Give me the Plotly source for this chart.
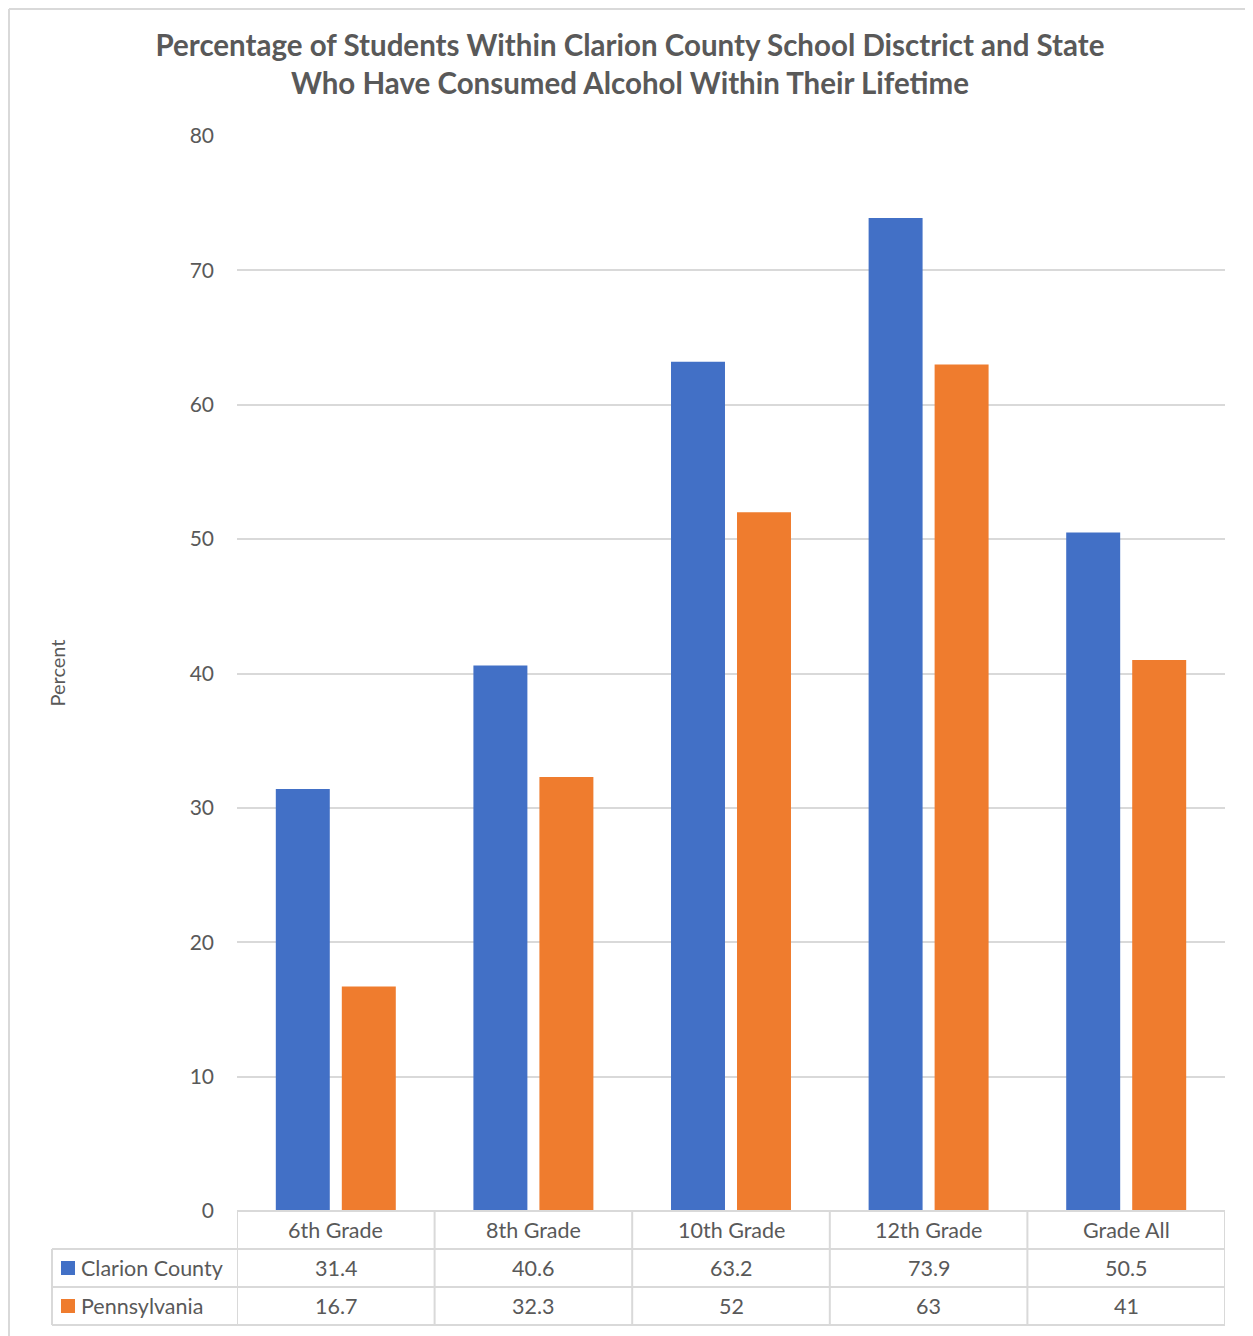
import plotly.graph_objects as go

categories = ["6th Grade", "8th Grade", "10th Grade", "12th Grade", "Grade All"]
series_names = ["Clarion County", "Pennsylvania"]
clarion = [31.4, 40.6, 63.2, 73.9, 50.5]
pennsylvania = [16.7, 32.3, 52, 63, 41]
clarion_labels = ["31.4", "40.6", "63.2", "73.9", "50.5"]
penn_labels = ["16.7", "32.3", "52", "63", "41"]
y_ticks = [0, 10, 20, 30, 40, 50, 60, 70, 80]

OFF = 8  # page body margin
W, H = 1253 - OFF, 1336 - OFF
L = 237 - OFF
T = 136 - OFF
R = W - (1225 - OFF)
B = H - (1211 - OFF)
PW = W - L - R
PH = H - T - B

BLUE = "#4270C6"
ORANGE = "#EF7C2E"
TXT = "#595959"
GRID = "#D9D9D9"
FONT = "Lato"


def px_x(px):
    # px given in reference-image coordinates
    return (px - OFF - L) / PW


def px_y(py):
    return (H - B - (py - OFF)) / PH


fig = go.Figure()
fig.add_trace(go.Bar(x=categories, y=clarion, name=series_names[0],
                     marker=dict(color=BLUE, line=dict(width=0))))
fig.add_trace(go.Bar(x=categories, y=pennsylvania, name=series_names[1],
                     marker=dict(color=ORANGE, line=dict(width=0))))

shapes = []
annotations = []
row_h = 38
rows_y = [1211, 1211 + row_h, 1211 + 2 * row_h, 1211 + 3 * row_h]
n = len(categories)
line = dict(color=GRID, width=2)

for i in range(n + 1):
    shapes.append(dict(type="line", xref="x", yref="paper",
                       x0=i - 0.5, x1=i - 0.5,
                       y0=px_y(rows_y[0]), y1=px_y(rows_y[3]), line=line))
shapes.append(dict(type="line", xref="x", yref="paper", x0=-0.5, x1=n - 0.5,
                   y0=px_y(rows_y[0]), y1=px_y(rows_y[0]), line=line))
for ry in rows_y[1:]:
    shapes.append(dict(type="line", xref="paper", yref="paper",
                       x0=px_x(52), x1=1,
                       y0=px_y(ry), y1=px_y(ry), line=line))
shapes.append(dict(type="line", xref="paper", yref="paper",
                   x0=px_x(52), x1=px_x(52),
                   y0=px_y(rows_y[1]), y1=px_y(rows_y[3]), line=line))

# outer chart border (top and left)
shapes.append(dict(type="line", xref="paper", yref="paper",
                   x0=px_x(OFF + 1), x1=px_x(1253 + 10), y0=px_y(OFF + 1), y1=px_y(OFF + 1),
                   line=dict(color=GRID, width=2)))
shapes.append(dict(type="line", xref="paper", yref="paper",
                   x0=px_x(OFF + 1), x1=px_x(OFF + 1), y0=px_y(OFF + 1), y1=px_y(1336 + 10),
                   line=dict(color=GRID, width=2)))

for col, r0 in [(BLUE, rows_y[1]), (ORANGE, rows_y[2])]:
    cy = r0 + row_h / 2
    shapes.append(dict(type="rect", xref="paper", yref="paper",
                       x0=px_x(61), x1=px_x(75),
                       y0=px_y(cy - 7), y1=px_y(cy + 7),
                       fillcolor=col, line=dict(width=0)))

tfont = dict(family=FONT, size=21.5, color=TXT)
for i, c in enumerate(categories):
    annotations.append(dict(x=c, xref="x", y=px_y(rows_y[0] + row_h / 2), yref="paper",
                            text=c, showarrow=False, font=tfont, xanchor="center", yanchor="middle"))
    annotations.append(dict(x=c, xref="x", y=px_y(rows_y[1] + row_h / 2), yref="paper",
                            text=clarion_labels[i], showarrow=False, font=tfont,
                            xanchor="center", yanchor="middle"))
    annotations.append(dict(x=c, xref="x", y=px_y(rows_y[2] + row_h / 2), yref="paper",
                            text=penn_labels[i], showarrow=False, font=tfont,
                            xanchor="center", yanchor="middle"))
for name, r0 in zip(series_names, rows_y[1:3]):
    annotations.append(dict(x=px_x(79), xref="paper", y=px_y(r0 + row_h / 2), yref="paper",
                            text=name, showarrow=False, font=tfont,
                            xanchor="left", yanchor="middle"))

annotations.append(dict(x=px_x(56), xref="paper", y=0.5, yref="paper", text="Percent",
                        textangle=-90, showarrow=False,
                        font=dict(family=FONT, size=20, color=TXT),
                        xanchor="center", yanchor="middle"))

fig.update_layout(
    width=W, height=H,
    margin=dict(l=L, r=R, t=T, b=B, pad=0),
    paper_bgcolor="white", plot_bgcolor="white",
    barmode="group", bargap=0.332, bargroupgap=0.182,
    showlegend=False,
    title=dict(text="Percentage of Students Within Clarion County School Disctrict and State<br>"
                    "Who Have Consumed Alcohol Within Their Lifetime",
               x=(630 - OFF) / W, xanchor="center", y=1 - 48 / H, yanchor="middle",
               font=dict(family=FONT, size=29.5, color=TXT, weight="bold")),
    xaxis=dict(showticklabels=False, showgrid=False, zeroline=False, showline=False,
               range=[-0.5, n - 0.5], fixedrange=True),
    yaxis=dict(range=[0, 80], tickvals=y_ticks, showgrid=True, gridcolor=GRID, gridwidth=1.5,
               zeroline=False, showline=False,
               tickfont=dict(family=FONT, size=21, color=TXT), ticks="",
               ticklabelstandoff=22),
    shapes=shapes, annotations=annotations,
    font=dict(family=FONT, color=TXT),
)

fig.write_html("out.html")
